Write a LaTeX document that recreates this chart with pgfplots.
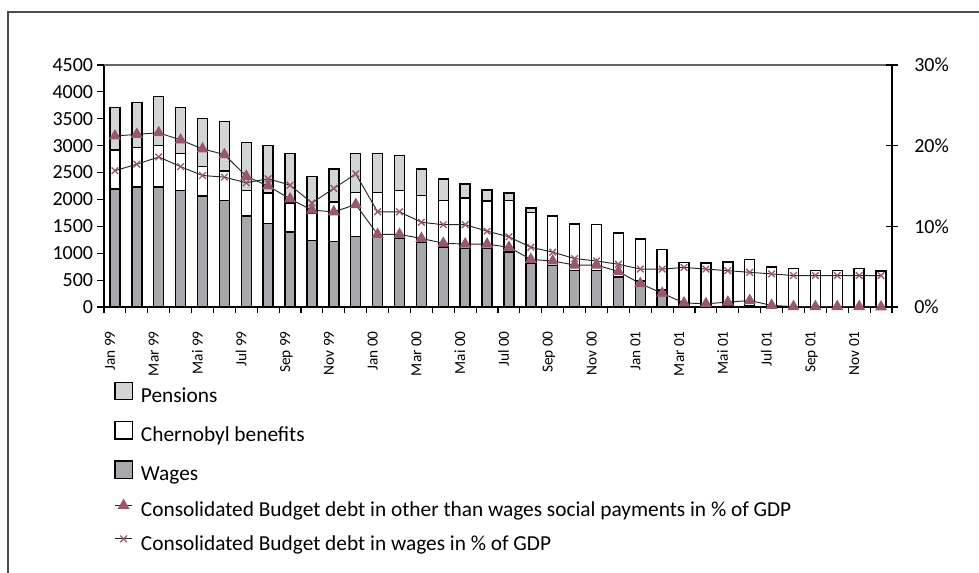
\documentclass[border=0pt]{standalone}
\usepackage{fontspec}
\setmainfont{Carlito}
\usepackage{pgfplots}
\pgfplotsset{compat=1.18}
\usepackage{pgfplotstable}

\definecolor{pens}{RGB}{211,212,214}
\definecolor{wage}{RGB}{166,168,171}
\definecolor{mauve}{RGB}{152,86,112}

% i: month index from Jan 99; bar segments in left units, lines in % of GDP
\pgfplotstableread{
i  wages chern pens  tri   cross
0  2190  725   790   21.2  16.9
1  2230  740   835   21.4  17.7
2  2230  775   910   21.6  18.6
3  2170  680   855   20.7  17.4
4  2065  550   895   19.6  16.3
5  1985  545   920   18.9  16.1
6  1690  480   890   16.2  15.4
7  1550  570   885   15.0  15.9
8  1395  540   915   13.4  15.1
9  1240  495   695   12.0  12.9
10 1220  730   615   11.8  14.7
11 1315  815   720   12.7  16.5
12 1290  840   720   9.0   11.8
13 1270  900   645   9.0   11.8
14 1210  865   490   8.5   10.5
15 1115  870   395   7.9   10.2
16 1085  940   260   7.8   10.2
17 1085  885   205   7.8   9.4
18 1025  960   135   7.4   8.7
19 805   950   90    5.9   7.4
20 775   915   0     5.7   6.8
21 680   865   0     5.2   6.0
22 680   850   0     5.2   5.7
23 560   815   0     4.4   5.3
24 480   785   0     2.9   4.7
25 320   750   0     1.7   4.7
26 20    810   0     0.5   4.9
27 10    810   0     0.4   4.7
28 15    820   0     0.6   4.5
29 30    855   0     0.8   4.3
30 5     735   0     0.2   4.1
31 0     720   0     0.05  3.9
32 0     680   0     0.05  3.9
33 0     680   0     0.05  3.9
34 0     720   0     0.05  3.9
35 0     670   0     0.0   3.9
}\debt

\pgfplotsset{
  boxleg/.style={legend image code/.code={\draw[##1,line width=1pt] (0pt,-2pt) rectangle (13pt,11pt);}},
  lineleg/.style={legend image code/.code={\draw[mark repeat=2,mark phase=2,##1] plot coordinates {(0pt,4.5pt) (6.5pt,4.5pt) (13pt,4.5pt)};}},
  segment/.style={draw=black, line width=1.1pt},
}

\begin{document}
\begin{tikzpicture}
\useasboundingbox (0,0) rectangle (734.25pt,429.75pt);
\draw[black!70, line width=0.8pt] (6pt,0) -- (6pt,420.75pt) -- (734.25pt,420.75pt);

\begin{axis}[
  at={(78pt,199.5pt)}, anchor=south west, scale only axis,
  width=591pt, height=181.5pt,
  ybar stacked, bar width=7.5pt,
  xmin=-0.5, xmax=35.5, ymin=0, ymax=4500,
  axis x line*=bottom, axis y line*=left,
  axis line style={-, black, line width=0.8pt},
  ytick={0,500,...,4500},
  scaled y ticks=false,
  /pgf/number format/1000 sep={},
  /pgf/number format/assume math mode=true,
  xtick={0,2,...,34},
  xticklabels={Jan 99,Mar 99,Mai 99,Jul 99,Sep 99,Nov 99,Jan 00,Mar 00,Mai 00,Jul 00,Sep 00,Nov 00,Jan 01,Mar 01,Mai 01,Jul 01,Sep 01,Nov 01},
  minor xtick={-0.5,0.5,...,35.5},
  major x tick style={draw=none},
  minor x tick style={black, line width=0.8pt},
  ytick style={black, line width=0.8pt},
  tick align=outside,
  major tick length=5pt, minor tick length=4.5pt,
  yticklabel style={font=\fontsize{15}{17}\selectfont, inner sep=0pt, xshift=-3pt},
  xticklabel style={font=\fontsize{11.5}{13}\selectfont, inner sep=0pt, yshift=-13pt, rotate=90, anchor=base east},
]
\addplot[segment, fill=wage] table[x=i, y=wages] {\debt};
\addplot[segment, fill=white] table[x=i, y=chern] {\debt};
\addplot[segment, fill=pens] table[x=i, y=pens] {\debt};
\draw[black!60, line width=0.8pt] (rel axis cs:0,1) -- (rel axis cs:1,1);
\end{axis}

\begin{axis}[
  at={(78pt,199.5pt)}, anchor=south west, scale only axis,
  width=591pt, height=181.5pt,
  xmin=-0.5, xmax=35.5, ymin=0, ymax=30,
  axis x line=none, axis y line*=right,
  axis line style={-, black, line width=0.8pt},
  ytick={0,10,20,30},
  yticklabel={\pgfmathprintnumber{\tick}\%},
  /pgf/number format/assume math mode=true,
  ytick style={black, line width=0.8pt},
  tick align=center, major tick length=9pt,
  yticklabel style={font=\fontsize{15}{17}\selectfont, inner sep=0pt, xshift=12pt},
  legend cell align=left,
  legend style={at={(0.0127,-0.307)}, anchor=north west, draw=none, fill=none,
    inner sep=0pt, row sep=11pt, column sep=6pt,
    font=\fontsize{16}{18}\selectfont,
    nodes={inner sep=0pt, text height=11pt, text depth=3pt}},
]
\addlegendimage{boxleg, draw=black, fill=pens}
\addlegendentry{Pensions}
\addlegendimage{boxleg, draw=black, fill=white}
\addlegendentry{Chernobyl benefits}
\addlegendimage{boxleg, draw=black, fill=wage}
\addlegendentry{Wages}
\addplot[lineleg, black!85, line width=0.7pt, mark=triangle*, mark size=4.5pt,
  mark options={fill=mauve, draw=mauve}] table[x=i, y=tri] {\debt};
\addlegendentry{Consolidated Budget debt in other than wages social payments in \% of GDP}
\addplot[lineleg, black!85, line width=0.7pt, mark=x, mark size=3.5pt,
  mark options={draw=mauve, line width=1pt}] table[x=i, y=cross] {\debt};
\addlegendentry{Consolidated Budget debt in wages in \% of GDP}
\end{axis}
\end{tikzpicture}
\end{document}
